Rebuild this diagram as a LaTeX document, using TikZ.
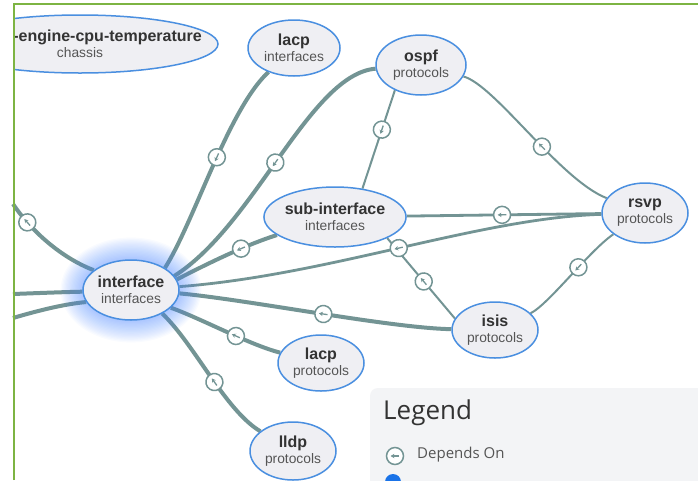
\documentclass[tikz,border=0pt]{standalone}
\usepackage{fontspec}
\setmainfont{Liberation Sans}
\newfontfamily\lgfont{Open Sans}
\usetikzlibrary{shapes.geometric,decorations.markings,arrows.meta}
\definecolor{edgec}{HTML}{739494}
\definecolor{nodeblue}{HTML}{4A8FE0}
\definecolor{nodefill}{HTML}{EFEFF3}
\definecolor{txtd}{HTML}{333333}
\definecolor{txtg}{HTML}{555555}
\definecolor{glowc}{HTML}{4A8CFF}
\definecolor{framegreen}{HTML}{7DB443}
\definecolor{lgfill}{HTML}{F3F4F6}
\definecolor{lgblue}{HTML}{1A73E8}
\pgfdeclarelayer{bg}
\pgfdeclarelayer{glowl}
\pgfsetlayers{bg,glowl,main}
\newcommand\nlab[2]{{\fontsize{16}{16}\selectfont\bfseries\color{txtd}#1}\\{\color{txtg}#2}}
\tikzset{
  nd/.style={ellipse, draw=nodeblue, line width=1.5pt, fill=nodefill, inner sep=0pt,
    align=center, font=\fontsize{13.8}{16}\selectfont},
  thick edge/.style={draw=edgec, line width=4pt},
  mid edge/.style={draw=edgec, line width=2.8pt},
  thin edge/.style={draw=edgec, line width=2pt},
  mk/.style={postaction={decorate, decoration={markings, mark=at position #1 with {
      \fill[white] (0,0) circle (8.5);
      \draw[edgec, line width=1.5pt] (0,0) circle (8.5);
      \draw[edgec, line width=1.3pt, -{Stealth[length=3.8pt,width=4.4pt]}] (4.2,0) -- (-4.4,0);}}}},
}
\begin{document}
\begin{tikzpicture}[x=1pt,y=-1pt]
\useasboundingbox (0,0) rectangle (698,480);
\begin{pgfonlayer}{bg}
\fill[white] (0,0) rectangle (698,480);
\end{pgfonlayer}

% nodes
\begin{scope}
\clip (15,0) rectangle (300,120);
\node[nd, minimum width=276pt, minimum height=58pt] (chs) at (80,44) {};
\end{scope}
\node[anchor=east, inner sep=0pt, font=\fontsize{16}{16}\selectfont\bfseries, text=txtd] (chsname) at (202,37) {-engine-cpu-temperature};
\node[inner sep=0pt, font=\fontsize{13.8}{16}\selectfont, text=txtg] (chstype) at (80,53) {chassis};

\node[nd, minimum width=92pt, minimum height=56pt] (lacpI) at (294,48) {\nlab{lacp}{interfaces}};
\node[nd, minimum width=90pt, minimum height=60pt] (ospf) at (421,65) {\nlab{ospf}{protocols}};
\node[nd, minimum width=132pt, minimum height=60pt] (sub) at (335,217) {\nlab{sub-interface}{interfaces}};
\node[nd, minimum width=86pt, minimum height=60pt] (rsvp) at (645,213) {\nlab{rsvp}{protocols}};
\node[nd, minimum width=86pt, minimum height=56pt] (isis) at (495,330) {\nlab{isis}{protocols}};
\node[nd, minimum width=96pt, minimum height=60pt] (I) at (131,290) {\nlab{interface}{interfaces}};
\node[nd, minimum width=86pt, minimum height=56pt] (lacpP) at (321,363) {\nlab{lacp}{protocols}};
\node[nd, minimum width=86pt, minimum height=58pt] (lldp) at (293,451) {\nlab{lldp}{protocols}};

\coordinate (L1) at (13,204);
\coordinate (L2) at (13,294);
\coordinate (L3) at (13,318);

% glow
\begin{pgfonlayer}{glowl}
\foreach \k in {1,...,18}
  \fill[glowc, opacity=0.03] (I.center) ellipse [x radius=47+1.3*\k, y radius=29+1.3*\k];
\end{pgfonlayer}

% edges
\begin{pgfonlayer}{bg}
\path[thick edge, mk=0.22] (L1) .. controls (32,232) and (62,258) .. (I.152);
\path[thick edge] (L2) .. controls (40,293) and (65,292) .. (I.182);
\path[thick edge] (L3) .. controls (40,310) and (65,304) .. (I.195);
\path[thick edge, mk=0.55] (I.33) .. controls (195,220) and (228,110) .. (lacpI);
\path[thick edge, mk=0.52] (I.18) .. controls (255,225) and (310,74) .. (ospf);
\path[thick edge, mk=0.65] (I.13) .. controls (205,265) and (245,245) .. (sub);
\path[thick edge, mk=0.53] (I.356) .. controls (250,300) and (390,328) .. (isis);
\path[thick edge, mk=0.6] (I.336) .. controls (200,318) and (250,345) .. (lacpP);
\path[thick edge, mk=0.56] (I.323) .. controls (195,345) and (225,410) .. (lldp);
\path[thin edge, mk=0.6] (sub.46) -- (ospf.224);
\path[thin edge, mk=0.56] (ospf) .. controls (495,85) and (560,180) .. (rsvp);
\path[mid edge, mk=0.49] (sub) -- (rsvp);
\path[thin edge, mk=0.54] (sub.338) -- (isis.164);
\path[thin edge, mk=0.58] (isis) .. controls (548,305) and (590,250) .. (rsvp);
\path[mid edge, mk=0.52] (I.4) .. controls (330,275) and (480,218) .. (rsvp);
\end{pgfonlayer}

% legend
\fill[lgfill, rounded corners=8pt] (370,388) rectangle (715,500);
\node[anchor=west, inner sep=0pt, font=\lgfont\fontsize{26}{26}\selectfont, text=txtd] (lgtitle) at (383,413) {Legend};
\node[circle, draw=edgec, line width=1.5pt, fill=white, minimum size=17pt, inner sep=0pt] (lgmk) at (395,456) {};
\draw[edgec, line width=1.3pt, -{Stealth[length=3.8pt,width=4.4pt]}] ([xshift=4.2pt]lgmk.center) -- ([xshift=-4.4pt]lgmk.center);
\node[anchor=west, inner sep=0pt, font=\lgfont\fontsize{15}{15}\selectfont, text=txtg] (lgdep) at (417,455) {Depends On};
\fill[lgblue] (393,482) circle (8);

% frame
\draw[framegreen, line width=2pt] (14,480) -- (14,4) -- (698,4);
\end{tikzpicture}
\end{document}
